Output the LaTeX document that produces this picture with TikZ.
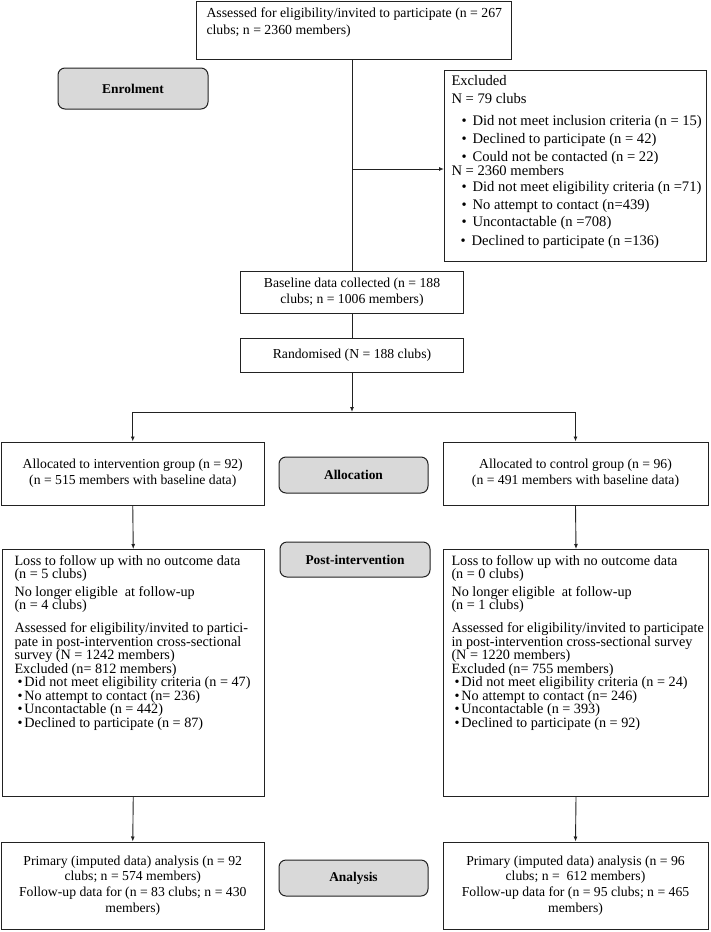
\documentclass[tikz,border=0pt]{standalone}
\usepackage{fontspec}
\setmainfont{Liberation Serif}
\usetikzlibrary{arrows.meta}
\definecolor{labgray}{HTML}{D9D9D9}
\definecolor{ink}{HTML}{222222}
% top-aligned box content: width, height, left pad, top pad, content
\newcommand{\tbx}[5]{\parbox[t][#2][t]{#1}{\vspace*{#4}\leftskip=#3\relax\rightskip=0pt plus 1fil\relax\lineskiplimit=-20pt\relax #5}}
\newcommand{\bulx}{\hspace*{10pt}\textbullet\hspace{6pt}}
\newcommand{\bulp}{\hspace*{3pt}\textbullet\hspace{2pt}}
\begin{document}
\begin{tikzpicture}[x=1pt,y=-1pt,
  box/.style={draw=ink, line width=1pt, fill=white, inner sep=0pt},
  cbox/.style={box, align=center, font=\fontsize{13.7}{15.7}\selectfont},
  lab/.style={draw=ink, line width=1pt, fill=labgray, rounded corners=7pt, inner sep=0pt,
              minimum width=149pt, minimum height=36pt, font=\fontsize{13.4}{15}\selectfont\bfseries},
  conn/.style={draw=ink, line width=0.9pt},
  arr/.style={conn, -{Latex[length=5pt,width=4pt]}}]
\useasboundingbox (0,0) rectangle (710,932);

% top box
\node[box, anchor=north west, font=\fontsize{13.8}{17}\selectfont] (top) at (196,1)
  {\tbx{315pt}{58pt}{10pt}{6pt}{Assessed for eligibility/invited to participate (n = 267\\clubs; n = 2360 members)}};

% enrolment label
\node[lab, minimum width=150pt, minimum height=41pt] (enrol) at (133,88.5) {Enrolment};

% excluded box
\node[box, anchor=north west, font=\fontsize{14.6}{18}\selectfont] (excl) at (444,70)
  {\tbx{262pt}{191pt}{7pt}{5pt}{Excluded\\[-0.5pt]
  N = 79 clubs\\[4pt]
  \bulx Did not meet inclusion criteria (n = 15)\\
  \bulx Declined to participate (n = 42)\\
  \bulx Could not be contacted (n = 22)\\[-3.5pt]
  N = 2360 members\\[-2pt]
  \bulx Did not meet eligibility criteria (n =71)\\
  \bulx No attempt to contact (n=439)\\[-1pt]
  \bulx Uncontactable (n =708)\\[1pt]
  \hspace*{-1pt}\bulx Declined to participate (n =136)}};

% baseline and randomised
\node[cbox, minimum width=223pt, minimum height=42pt] (base) at (352,292)
  {Baseline data collected (n = 188\\clubs; n = 1006 members)};
\node[cbox, minimum width=223pt, minimum height=34pt] (rand) at (352,355)
  {Randomised (N = 188 clubs)};

% allocation
\node[cbox, minimum width=262.5pt, minimum height=63pt] (allocL) at (132.75,473.5)
  {Allocated to intervention group (n = 92)\\(n = 515 members with baseline data)};
\node[cbox, minimum width=265pt, minimum height=63pt] (allocR) at (575.5,473.5)
  {Allocated to control group (n = 96)\\(n = 491 members with baseline data)};
\node[lab] (alloc) at (353.5,475) {Allocation};

% post-intervention
\node[box, anchor=north west, font=\fontsize{14.2}{13.5}\selectfont] (postL) at (1.5,549)
  {\tbx{262.5pt}{247pt}{12.5pt}{6.3pt}{Loss to follow up with no outcome data\\[-1pt]
  (n = 5 clubs)\\[5pt]
  No longer eligible\ \ at follow-up\\[-1pt]
  (n = 4 clubs)\\[10pt]
  Assessed for eligibility/invited to partici-\\
  pate in post-intervention cross-sectional\\
  survey (N = 1242 members)\\
  Excluded (n= 812 members)\\
  \bulp Did not meet eligibility criteria (n = 47)\\
  \bulp No attempt to contact (n= 236)\\
  \bulp Uncontactable (n = 442)\\
  \bulp Declined to participate (n = 87)}};
\node[box, anchor=north west, font=\fontsize{14.2}{13.5}\selectfont] (postR) at (443,549)
  {\tbx{265pt}{247pt}{8pt}{6.3pt}{Loss to follow up with no outcome data\\[-1pt]
  (n = 0 clubs)\\[5pt]
  No longer eligible\ \ at follow-up\\[-1pt]
  (n = 1 clubs)\\[10pt]
  Assessed for eligibility/invited to participate\\
  in post-intervention cross-sectional survey\\
  (N = 1220 members)\\
  Excluded (n= 755 members)\\
  \bulp Did not meet eligibility criteria (n = 24)\\
  \bulp No attempt to contact (n= 246)\\
  \bulp Uncontactable (n = 393)\\
  \bulp Declined to participate (n = 92)}};
\node[lab, minimum width=150pt, minimum height=35pt] (post) at (355,559.5) {Post-intervention};

% analysis
\node[cbox, minimum width=262.5pt, minimum height=87pt] (botL) at (132.75,885.5)
  {Primary (imputed data) analysis (n = 92\\clubs; n = 574 members)\\Follow-up data for (n = 83 clubs; n = 430\\members)};
\node[cbox, minimum width=265pt, minimum height=87pt] (botR) at (575.5,885.5)
  {Primary (imputed data) analysis (n = 96\\clubs; n =\ \ 612 members)\\Follow-up data for (n = 95 clubs; n = 465\\members)};
\node[lab] (anal) at (353.5,878) {Analysis};

% connectors
\coordinate (br) at (352,169);
\coordinate (split) at (352,412);
\draw[conn] (base.north |- top.south) -- (base.north);
\draw[arr] (br) -- (br -| excl.west);
\draw[conn] (base.south) -- (rand.north);
\draw[arr] (rand.south) -- (split);
\draw[conn] (split -| allocL.north) -- (split -| allocR.north);
\draw[arr] (split -| allocL.north) -- (allocL.north);
\draw[arr] (split -| allocR.north) -- (allocR.north);
\draw[arr] (allocL.south) -- (postL.north);
\draw[arr] (allocR.south) -- (postR.north);
\draw[arr] (postL.south) -- (botL.north);
\draw[arr] (postR.south) -- (botR.north);
\end{tikzpicture}
\end{document}
